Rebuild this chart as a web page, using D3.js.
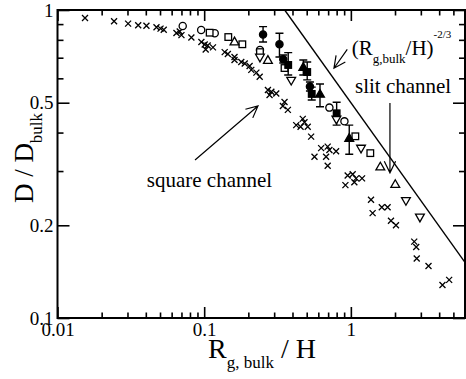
<!DOCTYPE html>
<html>
<head>
<meta charset="utf-8">
<script src="https://cdn.jsdelivr.net/npm/d3@7"></script>
<style>
  body { margin: 0; background: #fff; }
  svg { display: block; }
</style>
</head>
<body>
<div id="chart"></div>
<script>
// tick values
const xMajor = [0.01, 0.1, 1];
const xMinor = [0.02, 0.03, 0.04, 0.05, 0.06, 0.07, 0.08, 0.09, 0.2, 0.3, 0.4, 0.5, 0.6, 0.7, 0.8, 0.9, 2, 3, 4, 5];
const yMajor = [0.1, 0.2, 0.5, 1];
const yMinor = [0.3, 0.4, 0.6, 0.7, 0.8, 0.9];

// crosses
const crossX = [0.0154, 0.0243, 0.0303, 0.0355, 0.0404, 0.0473, 0.0504, 0.053, 0.0647, 0.070, 0.0818, 0.0681,
  0.0957, 0.1008, 0.1056, 0.1024, 0.1148, 0.138, 0.145, 0.161, 0.161, 0.179, 0.189, 0.204, 0.2095, 0.227, 0.239,
  0.272, 0.287, 0.310, 0.279, 0.353, 0.344, 0.372, 0.424, 0.470, 0.483, 0.454, 0.508, 0.536,
  0.627, 0.695, 0.714, 0.565, 0.678, 0.793, 0.695, 0.951, 1.029, 1.085, 1.192, 0.918, 1.056,
  1.372, 1.407, 1.625, 1.780, 1.877, 2.030, 2.704, 2.790, 2.812, 3.383, 4.212, 4.679];
const crossY = [0.942, 0.919, 0.903, 0.892, 0.889, 0.879, 0.870, 0.863, 0.842, 0.829, 0.814, 0.852,
  0.787, 0.773, 0.767, 0.744, 0.756, 0.730, 0.720, 0.704, 0.688, 0.678, 0.670, 0.658, 0.639, 0.626, 0.607,
  0.550, 0.543, 0.536, 0.530, 0.503, 0.488, 0.474, 0.423, 0.443, 0.432, 0.418, 0.418, 0.388,
  0.356, 0.360, 0.351, 0.334, 0.334, 0.348, 0.312, 0.290, 0.293, 0.284, 0.284, 0.270, 0.276,
  0.242, 0.219, 0.229, 0.229, 0.207, 0.200, 0.177, 0.170, 0.156, 0.1475, 0.128, 0.133];

// open symbols
const circleX = [0.0714, 0.0954, 0.118, 0.240, 0.714, 0.904];
const circleY = [0.887, 0.861, 0.840, 0.742, 0.482, 0.435];
const squareX = [0.109, 0.146, 0.182, 0.240, 0.353, 1.073, 1.357];
const squareY = [0.844, 0.817, 0.774, 0.730, 0.648, 0.389, 0.343];
const upX = [0.161, 0.272, 1.588, 2.008];
const upY = [0.790, 0.688, 0.310, 0.272];
const downX = [0.240, 0.392, 0.797, 1.173, 2.374, 2.957];
const downY = [0.701, 0.590, 0.441, 0.355, 0.240, 0.212];

// filled symbols with error bars
const dotX = [0.252, 0.326, 0.346, 0.526];
const dotY = [0.832, 0.774, 0.692, 0.564];
const dotLo = [0.787, 0.704, 0.673, 0.546];
const dotHi = [0.883, 0.840, 0.714, 0.584];
const boxX = [0.374, 0.504, 0.541, 0.800];
const boxY = [0.663, 0.629, 0.534, 0.462];
const boxLo = [0.615, 0.593, 0.510, 0.423];
const boxHi = [0.727, 0.678, 0.562, 0.502];
const triX = [0.474, 0.616, 0.975];
const triY = [0.653, 0.534, 0.384];
const triLo = [0.615, 0.485, 0.340];
const triHi = [0.688, 0.575, 0.423];

// (Rg,bulk/H)^-2/3 line, end points
const lawX = [0.354, 6];
const lawY = [1, 0.1515];

const width = 466, height = 379;
const plot = { left: 57.5, right: 465, top: 10, bottom: 318 };
const serif = '"Liberation Serif", Tinos, "Times New Roman", Times, "DejaVu Serif", serif';

const x = d3.scaleLog().domain([0.01, 6]).range([plot.left, plot.right]);
const y = d3.scaleLog().domain([0.1, 1]).range([plot.bottom, plot.top]);

const svg = d3.select('#chart')
  .append('svg')
  .attr('width', width)
  .attr('height', height)
  .attr('font-family', serif);

svg.append('rect').attr('width', width).attr('height', height).attr('fill', '#fff');

// clip
svg.append('clipPath').attr('id', 'clip')
  .append('rect')
  .attr('x', plot.left).attr('y', plot.top)
  .attr('width', plot.right - plot.left).attr('height', plot.bottom - plot.top);

// axes
const fmt = d => String(d);
function axisGroup(axis, tx, ty, labels) {
  const g = svg.append('g')
    .attr('transform', `translate(${tx},${ty})`)
    .call(axis)
    .attr('font-family', serif)
    .attr('font-size', 19);
  g.select('.domain').remove();
  g.selectAll('line').attr('stroke', '#000').attr('stroke-width', 1.6);
  g.selectAll('text').attr('fill', '#000');
  if (!labels) g.selectAll('text').remove();
  return g;
}

axisGroup(d3.axisBottom(x).tickValues(xMajor).tickSize(-11).tickSizeOuter(0).tickPadding(5).tickFormat(fmt), 0, plot.bottom, true);
axisGroup(d3.axisBottom(x).tickValues(xMinor).tickSize(-5.5).tickSizeOuter(0), 0, plot.bottom, false);
axisGroup(d3.axisTop(x).tickValues(xMajor).tickSize(-11).tickSizeOuter(0), 0, plot.top, false);
axisGroup(d3.axisTop(x).tickValues(xMinor).tickSize(-5.5).tickSizeOuter(0), 0, plot.top, false);
axisGroup(d3.axisLeft(y).tickValues(yMajor).tickSize(-12).tickSizeOuter(0).tickPadding(4).tickFormat(fmt), plot.left, 0, true);
axisGroup(d3.axisLeft(y).tickValues(yMinor).tickSize(-6).tickSizeOuter(0), plot.left, 0, false);
axisGroup(d3.axisRight(y).tickValues(yMajor).tickSize(-12).tickSizeOuter(0), plot.right, 0, false);
axisGroup(d3.axisRight(y).tickValues(yMinor).tickSize(-6).tickSizeOuter(0), plot.right, 0, false);

svg.append('rect')
  .attr('x', plot.left).attr('y', plot.top)
  .attr('width', plot.right - plot.left).attr('height', plot.bottom - plot.top)
  .attr('fill', 'none').attr('stroke', '#000').attr('stroke-width', 2);

// power law line
svg.append('line')
  .attr('clip-path', 'url(#clip)')
  .attr('x1', x(lawX[0])).attr('y1', y(lawY[0]))
  .attr('x2', x(lawX[1])).attr('y2', y(lawY[1]))
  .attr('stroke', '#000').attr('stroke-width', 1.4);

const marks = svg.append('g').attr('fill', 'none').attr('stroke', '#000').attr('stroke-width', 1.3);

const zip = (xs, ys) => xs.map((v, i) => [v, ys[i]]);

// crosses
marks.selectAll('path.cross')
  .data(zip(crossX, crossY))
  .join('path')
  .attr('class', 'cross')
  .attr('d', d => {
    const cx = x(d[0]), cy = y(d[1]), s = 3;
    return `M${cx - s},${cy - s}L${cx + s},${cy + s}M${cx - s},${cy + s}L${cx + s},${cy - s}`;
  });

// error bars
function errorBars(xs, lo, hi) {
  marks.selectAll(null)
    .data(xs.map((v, i) => ({ x: v, lo: lo[i], hi: hi[i] })))
    .join('path')
    .attr('stroke-width', 1.4)
    .attr('d', d => {
      const cx = x(d.x), y0 = y(d.lo), y1 = y(d.hi), w = 4;
      return `M${cx},${y0}L${cx},${y1}M${cx - w},${y0}L${cx + w},${y0}M${cx - w},${y1}L${cx + w},${y1}`;
    });
}
errorBars(dotX, dotLo, dotHi);
errorBars(boxX, boxLo, boxHi);
errorBars(triX, triLo, triHi);

function circles(xs, ys, fill) {
  marks.selectAll(null)
    .data(zip(xs, ys))
    .join('circle')
    .attr('cx', d => x(d[0])).attr('cy', d => y(d[1]))
    .attr('r', 3.6)
    .attr('fill', fill);
}
function squares(xs, ys, fill) {
  marks.selectAll(null)
    .data(zip(xs, ys))
    .join('rect')
    .attr('x', d => x(d[0]) - 3.3).attr('y', d => y(d[1]) - 3.3)
    .attr('width', 6.6).attr('height', 6.6)
    .attr('fill', fill);
}
function triangles(xs, ys, fill, dir) {
  marks.selectAll(null)
    .data(zip(xs, ys))
    .join('path')
    .attr('fill', fill)
    .attr('d', d => {
      const cx = x(d[0]), cy = y(d[1]), h = 4.4 * dir;
      return `M${cx},${cy - h}L${cx + 4.4},${cy + h * 0.75}L${cx - 4.4},${cy + h * 0.75}Z`;
    });
}

circles(circleX, circleY, '#fff');
squares(squareX, squareY, '#fff');
triangles(upX, upY, '#fff', 1);
triangles(downX, downY, '#fff', -1);
circles(dotX, dotY, '#000');
squares(boxX, boxY, '#000');
triangles(triX, triY, '#000', 1);

// annotation arrows [tailX, tailY, headX, headY]
const arrows = [
  [0.945, 0.745, 0.767, 0.647],
  [1.847, 0.499, 1.847, 0.296],
  [0.0866, 0.326, 0.2327, 0.488]
];
const ann = svg.append('g').attr('stroke', '#000').attr('stroke-width', 1.2).attr('fill', 'none');
arrows.forEach(a => {
  const x0 = x(a[0]), y0 = y(a[1]), x1 = x(a[2]), y1 = y(a[3]);
  const ang = Math.atan2(y1 - y0, x1 - x0), L = 13, sp = 0.45;
  ann.append('path')
    .attr('d', `M${x0},${y0}L${x1},${y1}` +
      `M${x1 - L * Math.cos(ang - sp)},${y1 - L * Math.sin(ang - sp)}L${x1},${y1}` +
      `L${x1 - L * Math.cos(ang + sp)},${y1 - L * Math.sin(ang + sp)}`);
});

// labels
svg.append('text')
  .attr('x', x(0.0406)).attr('y', y(0.266))
  .attr('font-size', 21)
  .text('square channel');

svg.append('text')
  .attr('x', x(1.067)).attr('y', y(0.539))
  .attr('font-size', 21)
  .text('slit channel');

const law = svg.append('text')
  .attr('x', x(1.013)).attr('y', y(0.714))
  .attr('font-size', 21);
law.append('tspan').text('(R');
law.append('tspan').attr('font-size', 13).attr('dy', 8).text('g,bulk');
law.append('tspan').attr('dy', -8).text('/H)');
law.append('tspan').attr('font-size', 11).attr('dy', -17).text('-2/3');

// axis titles
const xt = svg.append('text')
  .attr('x', 262).attr('y', 358)
  .attr('text-anchor', 'middle')
  .attr('font-size', 28);
xt.append('tspan').text('R');
xt.append('tspan').attr('font-size', 17).attr('dy', 10).text('g, bulk');
xt.append('tspan').attr('dy', -10).text(' / H');

const yt = svg.append('text')
  .attr('transform', 'translate(33,158) rotate(-90)')
  .attr('text-anchor', 'middle')
  .attr('font-size', 27);
yt.append('tspan').text('D / D');
yt.append('tspan').attr('font-size', 17).attr('dy', 9).text('bulk');
</script>
</body>
</html>
